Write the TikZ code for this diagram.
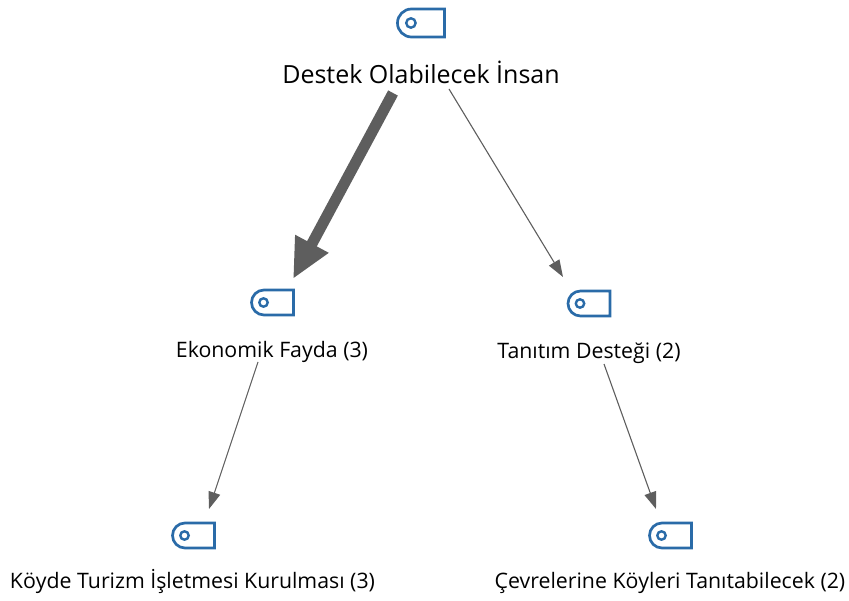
\documentclass[tikz,border=0pt]{standalone}
\usepackage{fontspec}
\setmainfont{Open Sans}
\usetikzlibrary{arrows.meta}
\definecolor{tagblue}{HTML}{2A6BA8}
\definecolor{linkgray}{HTML}{5E5E5E}
\tikzset{
  x=1pt,y=-1pt,
  pics/tagicon/.style={code={
    \draw[tagblue,line width=2.7pt,line join=miter]
      (21,-12.5) -- (-8.5,-12.5) arc[start angle=270,end angle=90,radius=12.5]
      -- (21,12.5) -- cycle;
    \draw[tagblue,line width=2.4pt] (-9,0) circle[radius=4.2];
  }},
  bigicon/.style={scale=1.12},
  label/.style={inner sep=0pt,anchor=base,text=black,font=\fontsize{21.3}{25}\selectfont},
  biglabel/.style={inner sep=0pt,anchor=base,text=black,font=\fontsize{25}{30}\selectfont},
  thinlink/.style={draw=linkgray,line width=1.1pt,-{Triangle[length=17pt,width=12pt,fill=linkgray]}},
  boldlink/.style={draw=linkgray,line width=11pt,-{Triangle[length=40pt,width=35pt,fill=linkgray]},shorten <=0pt},
}
\begin{document}
\begin{tikzpicture}
\useasboundingbox (0,0) rectangle (849,601);
\pic[bigicon] at (421,23) {tagicon};
\pic at (272.5,302.5) {tagicon};
\pic at (589,303.5) {tagicon};
\pic at (193.5,535.5) {tagicon};
\pic at (670.5,535.5) {tagicon};
\node[biglabel] (root) at (421,84) {Destek Olabilecek İnsan};
\node[label] (eko) at (272,358) {Ekonomik Fayda (3)};
\node[label] (tan) at (589,359) {Tanıtım Desteği (2)};
\node[label] (koy) at (192.5,588) {Köyde Turizm İşletmesi Kurulması (3)};
\node[label] (cev) at (670,588) {Çevrelerine Köyleri Tanıtabilecek (2)};
\coordinate (a1) at (393,93);
\coordinate (a2) at (293,279);
\coordinate (b1) at (449,89);
\coordinate (b2) at (563,277);
\coordinate (c1) at (258,362);
\coordinate (c2) at (209,509);
\coordinate (d1) at (604,364);
\coordinate (d2) at (656,509);
\draw[boldlink] (a1) -- (a2);
\draw[thinlink] (b1) -- (b2);
\draw[thinlink] (c1) -- (c2);
\draw[thinlink] (d1) -- (d2);
\end{tikzpicture}
\end{document}
